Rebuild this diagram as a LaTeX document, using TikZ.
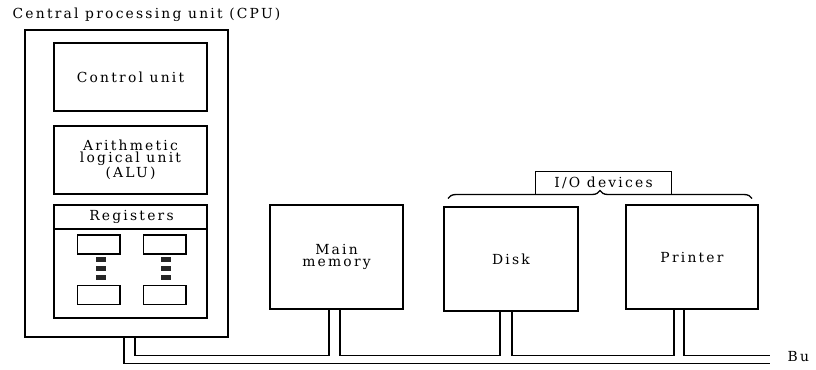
\documentclass[tikz,border=0pt]{standalone}
\usepackage{fontspec}
\setmainfont{DejaVu Serif}[LetterSpace=16]
\usetikzlibrary{decorations.pathreplacing,calc}
\begin{document}
\begin{tikzpicture}[x=0.75pt,y=-0.75pt,line width=1pt,
  every node/.style={font=\fontsize{10.4}{9.2}\selectfont,align=center,inner sep=0pt,text=black},
  pbox/.style 2 args={draw,rectangle,minimum width=#1*0.75pt,minimum height=#2*0.75pt},
  dotbox/.style={fill=black!85,draw=none,rectangle,minimum width=7.5pt,minimum height=3.8pt}]
\useasboundingbox (0,0) rectangle (816,369);
% title
\node[anchor=west] (title) at (12,15) {Central processing unit (CPU)};
% CPU
\node[pbox={203}{307}] (cpu) at (126.5,183.5) {};
\node[pbox={153}{68}] (cu) at (130.5,77) {Control unit};
\node[pbox={153}{68}] (alu) at (130.5,160) {Arithmetic\\logical unit\\(ALU)};
\node[pbox={153}{113}] (reg) at (130.5,261.5) {};
\coordinate (hl) at (54,229);
\coordinate (hr) at (207,229);
\draw (hl) -- (hr);
\node (regt) at (131.5,217) {Registers};
\node[pbox={42.5}{19}] (r1) at (98.7,244.5) {};
\node[pbox={42.5}{19}] (r2) at (164.7,244.5) {};
\node[pbox={42.5}{19}] (r3) at (98.7,295.3) {};
\node[pbox={42.5}{19}] (r4) at (164.7,295.3) {};
\node[dotbox] (d1) at (101.3,259.2) {};
\node[dotbox] (d2) at (101.3,268.5) {};
\node[dotbox] (d3) at (101.3,277.6) {};
\node[dotbox] (d4) at (166,259.2) {};
\node[dotbox] (d5) at (166,268.5) {};
\node[dotbox] (d6) at (166,277.6) {};
% memory and devices
\node[pbox={133}{104}] (mem) at (336.5,257) {Main\\memory};
\node[pbox={134}{104}] (disk) at (511,259) {Disk};
\node[pbox={132}{104}] (prn) at (692,257) {Printer};
% I/O devices
\node[minimum width=135*0.75pt,minimum height=22*0.75pt] (io) at (603.5,183) {I/O devices};
\draw (io.south west) -- (io.north west) -- (io.north east) -- (io.south east);
\draw[decorate,decoration={brace,amplitude=6pt}] (448,198.5) -- (752,198.5);
% bus
\coordinate (busend1) at (770,363.5);
\coordinate (busend2) at (770,355.5);
\node[anchor=west] (bus) at (787,357) {Bu};
\draw (124,0 |- cpu.south) -- (124,363.5) -- (busend1);
\draw (135,0 |- cpu.south) -- (135,355.5) -- (329,355.5) -- (329,0 |- mem.south);
\draw (340,0 |- mem.south) -- (340,355.5) -- (500,355.5) -- (500,0 |- disk.south);
\draw (512,0 |- disk.south) -- (512,355.5) -- (674,355.5) -- (674,0 |- prn.south);
\draw (684,0 |- prn.south) -- (684,355.5) -- (busend2);
\end{tikzpicture}
\end{document}
